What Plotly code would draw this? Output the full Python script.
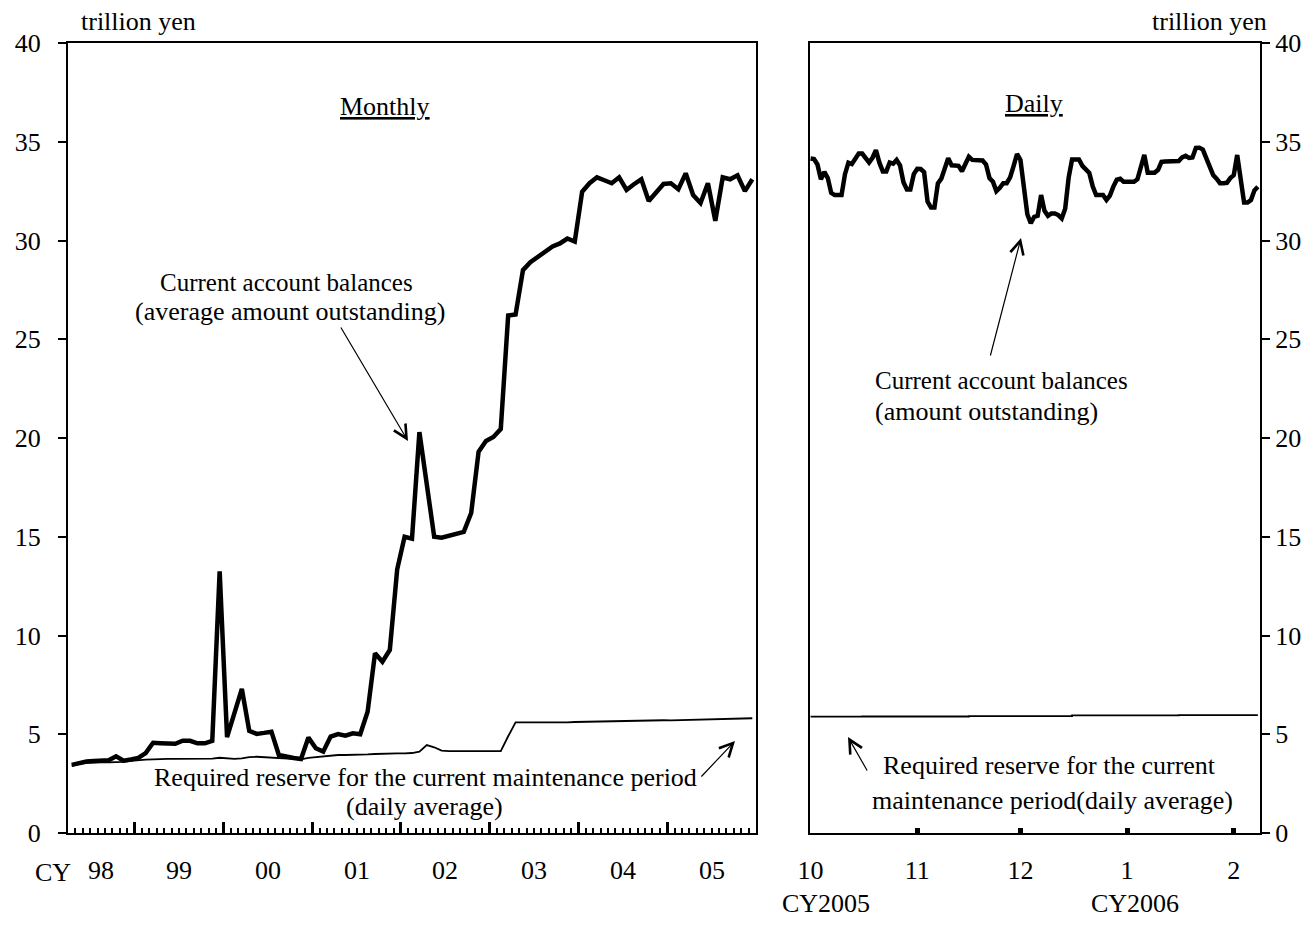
import plotly.graph_objects as go
import pandas as pd

# ---------------- data (trillion yen) ----------------
# Monthly panel: April 1998 .. December 2005
monthly_start = "1998-04"
monthly_end = "2005-12"
cab_monthly = [
    # 1998 Apr-Dec
    3.45, 3.55, 3.62, 3.65, 3.65, 3.68, 3.88, 3.66, 3.72,
    # 1999
    3.8, 4.05, 4.57, 4.55, 4.52, 4.52, 4.67, 4.67, 4.54, 4.54, 4.67, 13.25,
    # 2000
    4.85, 6.0, 7.3, 5.17, 5.02, 5.07, 5.13, 3.95, 3.86, 3.8, 3.75, 4.83,
    # 2001
    4.29, 4.12, 4.88, 5.01, 4.93, 5.05, 5.0, 6.14, 9.1, 8.67, 9.27, 13.35,
    # 2002
    15.0, 14.9, 20.3, 17.6, 15.0, 14.95, 15.05, 15.15, 15.25, 16.2, 19.3, 19.85,
    # 2003
    20.05, 20.45, 26.2, 26.25, 28.5, 28.9, 29.15, 29.4, 29.7, 29.85, 30.1, 29.95,
    # 2004
    32.47, 32.9, 33.2, 33.05, 32.9, 33.2, 32.56, 32.85, 33.1, 32.0, 32.45, 32.86,
    # 2005
    32.9, 32.6, 33.4, 32.3, 31.9, 32.9, 31.0, 33.2, 33.1, 33.3, 32.5, 33.1,
]
req_monthly = [
    # 1998 Apr-Dec
    3.4, 3.5, 3.55, 3.58, 3.58, 3.58, 3.58, 3.6, 3.65,
    # 1999
    3.7, 3.72, 3.73, 3.75, 3.75, 3.75, 3.75, 3.75, 3.75, 3.75, 3.77, 3.81,
    # 2000
    3.77, 3.75, 3.78, 3.84, 3.86, 3.84, 3.82, 3.8, 3.78, 3.75, 3.73, 3.8,
    # 2001
    3.84, 3.86, 3.9, 3.95, 3.95, 3.95, 3.96, 3.98, 4.0, 4.02, 4.03, 4.03,
    # 2002
    4.03, 4.05, 4.12, 4.45, 4.34, 4.17, 4.15, 4.15, 4.15, 4.15, 4.15, 4.16,
    # 2003
    4.17, 4.15, 4.9, 5.6, 5.6, 5.6, 5.58, 5.57, 5.57, 5.58, 5.6, 5.62,
    # 2004
    5.63, 5.62, 5.65, 5.66, 5.66, 5.67, 5.68, 5.68, 5.68, 5.69, 5.7, 5.71,
    # 2005
    5.7, 5.71, 5.72, 5.72, 5.73, 5.74, 5.74, 5.75, 5.76, 5.77, 5.79, 5.81,
]
year_labels = ["98", "99", "00", "01", "02", "03", "04", "05"]

# Daily panel: 1 Oct 2005 .. 8 Feb 2006 (calendar days)
daily_start = "2005-10-01"
cab_daily = [
    34.15, 34.12, 33.85, 33.1, 33.47, 33.16, 32.41, 32.3, 32.3, 32.3,
    33.36, 33.94, 33.87, 34.15, 34.4, 34.4, 34.17, 33.95, 34.19, 34.58,
    33.94, 33.5, 33.5, 33.95, 33.89, 34.08, 33.8, 32.95, 32.58, 32.58,
    33.36, 33.63, 33.62, 33.46, 31.97, 31.67, 31.67, 32.89, 33.13, 33.62,
    34.16, 33.81, 33.8, 33.78, 33.51, 33.84, 34.24, 34.08, 34.07, 34.06,
    34.05, 33.85, 33.16, 32.98, 32.5, 32.67, 32.9, 32.9, 33.2, 33.77,
    34.38, 34.08, 32.89, 31.33, 30.87, 31.2, 31.25, 32.3, 31.5, 31.25,
    31.37, 31.37, 31.29, 31.12, 31.61, 33.17, 34.1, 34.1, 34.1, 33.78,
    33.58, 33.42, 32.75, 32.3, 32.3, 32.3, 32.05, 32.27, 32.73, 33.08,
    33.13, 32.97, 32.97, 32.97, 32.97, 33.1, 33.75, 34.33, 33.43, 33.43,
    33.43, 33.58, 33.98, 34.0, 34.0, 34.0, 34.0, 34.02, 34.21, 34.29,
    34.18, 34.2, 34.69, 34.7, 34.6, 34.14, 33.68, 33.32, 33.13, 32.9,
    32.9, 32.92, 33.16, 33.31, 34.33, 32.9, 31.92, 31.92, 32.05, 32.54,
    32.72,
]
# required reserve by maintenance period (16th to 15th)
req_daily_dates = ["2005-10-01", "2005-10-16", "2005-11-16", "2005-12-16", "2006-01-16", "2006-02-08"]
req_daily = [5.89, 5.9, 5.92, 5.96, 5.97, 5.97]
month_ticks = ["2005-10-01", "2005-11-01", "2005-12-01", "2006-01-01", "2006-02-01"]
month_labels = ["10", "11", "12", "1", "2"]

# ---------------- derived x positions ----------------
months = pd.period_range(monthly_start, monthly_end, freq="M")
x_month = [(p.year - 1998) * 12 + (p.month - 1) + 0.5 for p in months]
x_first = (months[0].year - 1998) * 12 + months[0].month - 1
x_last = (months[-1].year - 1998) * 12 + months[-1].month
year_centers = []
for i, lab in enumerate(year_labels):
    y0 = max(i * 12, x_first)
    y1 = min((i + 1) * 12, x_last)
    year_centers.append((y0 + y1) / 2)
daily_dates = pd.date_range(daily_start, periods=len(cab_daily), freq="D")

FONT = "Liberation Serif"
FS = 26
PAGE_W, PAGE_H = 1310, 926
OFF = 8  # default page body margin
W, H = PAGE_W - 2 * OFF, PAGE_H - 2 * OFF


def px(x):
    return (x - OFF) / W


def py(y):
    return 1 - (y - OFF) / H


fig = go.Figure()
fig.add_trace(go.Scatter(x=x_month, y=cab_monthly, mode="lines",
                         line=dict(color="black", width=4.5), xaxis="x", yaxis="y"))
fig.add_trace(go.Scatter(x=x_month, y=req_monthly, mode="lines",
                         line=dict(color="black", width=1.8), xaxis="x", yaxis="y"))
fig.add_trace(go.Scatter(x=daily_dates, y=cab_daily, mode="lines",
                         line=dict(color="black", width=4.5), xaxis="x2", yaxis="y2"))
fig.add_trace(go.Scatter(x=pd.to_datetime(req_daily_dates), y=req_daily, mode="lines",
                         line=dict(color="black", width=1.8, shape="hv"), xaxis="x2", yaxis="y2"))

ydom = [py(833), py(43)]
axis_common = dict(showline=True, linecolor="black", linewidth=2, mirror=True,
                   showgrid=False, zeroline=False, automargin=False)

fig.update_layout(
    template="none",
    width=W, height=H,
    margin=dict(l=0, r=0, t=0, b=0, pad=0, autoexpand=False),
    paper_bgcolor="white", plot_bgcolor="white",
    showlegend=False,
    font=dict(family=FONT, size=FS, color="black"),
    xaxis=dict(domain=[px(68), px(756)], range=[x_first, x_last], anchor="y",
               tickmode="array", tickvals=[12 * k for k in range(1, 9)],
               ticks="inside", ticklen=11, tickwidth=3, tickcolor="black",
               showticklabels=False,
               minor=dict(tickmode="linear", tick0=0, dtick=1, ticks="inside",
                          ticklen=5, tickwidth=1.5, tickcolor="black", showgrid=False),
               **axis_common),
    yaxis=dict(domain=ydom, range=[0, 40], dtick=5, anchor="x",
               ticks="outside", ticklen=8, tickwidth=2, tickcolor="black",
               ticklabelstandoff=12, tickfont=dict(size=FS),
               **axis_common),
    xaxis2=dict(domain=[px(810), px(1260)], type="date", anchor="y2",
                range=["2005-09-30 20:00", "2006-02-08 15:00"],
                tickmode="array", tickvals=month_ticks, ticktext=month_labels,
                ticks="inside", ticklen=5, tickwidth=5, tickcolor="black",
                ticklabelstandoff=13, tickfont=dict(size=FS),
                **axis_common),
    yaxis2=dict(domain=ydom, range=[0, 40], dtick=5, anchor="x2", side="right",
                ticks="outside", ticklen=8, tickwidth=2, tickcolor="black",
                tickfont=dict(size=FS),
                **axis_common),
)

ann = []
# year labels for monthly panel
for xc, lab in zip(year_centers, year_labels):
    ann.append(dict(x=xc, y=py(870), xref="x", yref="paper", text=lab,
                    showarrow=False, xanchor="center", yanchor="middle"))
texts = [
    (53, 872, "CY", "center", FS),
    (826, 903, "CY2005", "center", FS),
    (1135, 903, "CY2006", "center", FS),
    (138, 22, "trillion yen", "center", FS),
    (1209, 22, "trillion yen", "center", FS),
    (385, 106, "<u>Monthly</u>", "center", FS),
    (1034, 104, "<u>Daily</u>", "center", FS),
    (286, 282, "Current account balances", "center", 25),
    (290, 312, "(average amount outstanding)", "center", FS),
    (873, 380, "Current account balances", "left", 25),
    (873, 411, "(amount outstanding)", "left", FS),
    (425, 777, "Required reserve for the current maintenance period", "center", FS),
    (424, 806, "(daily average)", "center", FS),
    (1049, 765, "Required reserve for the current", "center", FS),
    (1052, 800, "maintenance period(daily average)", "center", FS),
]
for tx, ty, t, anc, fs in texts:
    ann.append(dict(x=px(tx), y=py(ty), xref="paper", yref="paper", text=t,
                    font=dict(size=fs), showarrow=False, xanchor=anc, yanchor="middle"))

# arrows (tail -> head), pixel positions on the page
arrows = [((340, 326), (408, 441)), ((990, 357), (1021, 238)),
          ((700, 778), (735, 741)), ((868, 772), (848, 737))]
for (tx, ty), (hx, hy) in arrows:
    ann.append(dict(x=px(hx), y=py(hy), xref="paper", yref="paper", text="",
                    showarrow=True, ax=tx - hx, ay=ty - hy, axref="pixel", ayref="pixel",
                    arrowhead=5, arrowsize=2.2, arrowwidth=1.2, arrowcolor="black",
                    standoff=0, startstandoff=0))
fig.update_layout(annotations=ann)

fig.write_html("out.html")
